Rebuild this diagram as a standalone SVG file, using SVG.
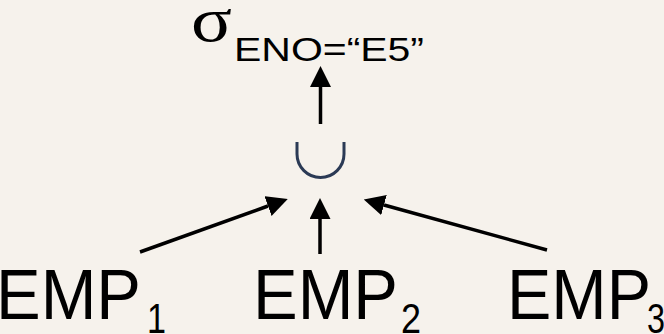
<svg xmlns="http://www.w3.org/2000/svg" width="664" height="334" viewBox="0 0 664 334">
  <style>
    .lbl { font-family: "Liberation Sans", Arial, sans-serif; fill: #000; }
    .rel { font-size: 70px; }
    .sub { font-size: 42px; }
    .edge { stroke: #000; stroke-width: 3.5; fill: none; marker-end: url(#head); }
  </style>
  <defs>
    <marker id="head" markerWidth="6" markerHeight="6" refX="0" refY="3" orient="auto" markerUnits="strokeWidth">
      <path d="M0,0 L6,3 L0,6 Z" fill="#000"/>
    </marker>
  </defs>
  <rect width="664" height="334" fill="#f6f2ec"/>

  <!-- selection operator -->
  <g id="select">
    <text x="191" y="41" font-family="Liberation Serif, Times New Roman, serif" font-size="64" textLength="41" lengthAdjust="spacingAndGlyphs">σ</text>
    <text class="lbl" x="234" y="61" font-size="33" textLength="190" lengthAdjust="spacingAndGlyphs">ENO=“E5”</text>
  </g>

  <!-- union operator -->
  <g id="union">
    <path d="M297,142 V154 A23.5,23.5 0 0 0 344,154 V142" fill="none" stroke="#2b3a55" stroke-width="3"/>
  </g>

  <!-- fragments -->
  <g id="emp1">
    <text class="lbl rel" x="-4" y="319" textLength="145" lengthAdjust="spacingAndGlyphs">EMP</text>
    <text class="lbl sub" x="147" y="333" textLength="19" lengthAdjust="spacingAndGlyphs">1</text>
  </g>
  <g id="emp2">
    <text class="lbl rel" x="253" y="319" textLength="145" lengthAdjust="spacingAndGlyphs">EMP</text>
    <text class="lbl sub" x="401" y="333" textLength="20" lengthAdjust="spacingAndGlyphs">2</text>
  </g>
  <g id="emp3">
    <text class="lbl rel" x="507" y="319" textLength="144" lengthAdjust="spacingAndGlyphs">EMP</text>
    <text class="lbl sub" x="647" y="333" textLength="18" lengthAdjust="spacingAndGlyphs">3</text>
  </g>

  <!-- connectors -->
  <g id="edges">
    <line class="edge" x1="320.5" y1="124" x2="320.5" y2="87"/>
    <line class="edge" x1="140" y1="252" x2="268" y2="206"/>
    <line class="edge" x1="320" y1="254" x2="320" y2="219"/>
    <line class="edge" x1="547" y1="250" x2="384" y2="205"/>
  </g>
</svg>
